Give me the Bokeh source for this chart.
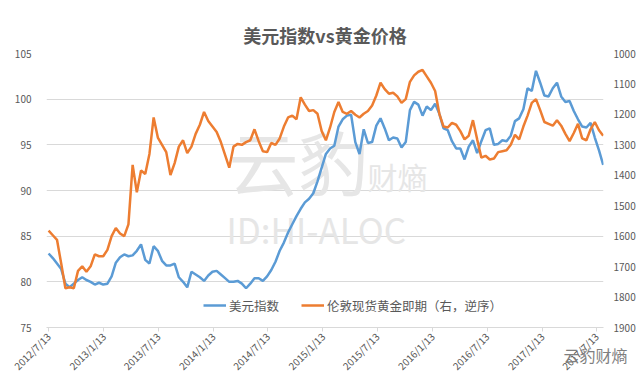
from datetime import datetime
import pandas as pd
from bokeh.plotting import figure
from bokeh.models import (Range1d, LinearAxis, FixedTicker, CustomJSTickFormatter,
                          Legend, LegendItem, Label, ColumnDataSource)
from bokeh.embed import file_html
from bokeh.resources import INLINE

# ---------------- data (~2-week sampling) ----------------
start_date = "2012-07-13"
n_points = 133
usd_index = [
    83.1, 82.6, 82.0, 81.4, 79.8, 79.4, 79.8, 80.2, 80.5, 80.2,
    80.0, 79.7, 79.9, 79.7, 79.8, 80.6, 82.1, 82.7, 83.0, 82.8,
    82.9, 83.4, 84.1, 82.4, 82.0, 83.9, 83.4, 82.3, 81.8, 81.8,
    82.0, 80.5, 80.0, 79.4, 81.1, 80.8, 80.5, 80.1, 80.7, 81.1,
    81.2, 80.8, 80.4, 80.0, 80.0, 80.1, 79.8, 79.3, 79.8, 80.4,
    80.4, 80.1, 80.6, 81.3, 82.2, 83.4, 84.3, 85.4, 86.3, 87.2,
    88.0, 88.7, 89.1, 89.7, 91.0, 92.5, 94.0, 94.6, 94.9, 97.0,
    97.8, 98.2, 98.3, 95.3, 94.0, 96.7, 95.2, 95.3, 97.1, 97.9,
    96.8, 95.5, 95.8, 95.7, 94.7, 95.3, 98.8, 99.7, 99.4, 98.2,
    99.2, 98.8, 99.5, 98.4, 96.8, 96.6, 95.4, 94.6, 94.6, 93.4,
    94.8, 95.5, 94.1, 95.4, 96.6, 96.8, 95.0, 95.1, 95.5, 95.4,
    96.0, 97.6, 97.9, 98.9, 101.2, 100.9, 103.1, 101.8, 100.4, 100.3,
    101.2, 101.8, 100.3, 99.7, 99.8, 98.7, 97.8, 97.0, 96.9, 97.4,
    95.8, 94.4, 92.8,
]
gold_price = [
    1582, 1597, 1612, 1690, 1771, 1768, 1771, 1714, 1699, 1717,
    1699, 1660, 1666, 1666, 1645, 1600, 1573, 1591, 1600, 1561,
    1366, 1456, 1384, 1396, 1330, 1210, 1276, 1300, 1324, 1399,
    1360, 1306, 1285, 1327, 1306, 1264, 1234, 1192, 1222, 1240,
    1258, 1291, 1333, 1375, 1306, 1297, 1300, 1291, 1285, 1249,
    1288, 1321, 1324, 1294, 1300, 1279, 1240, 1210, 1204, 1216,
    1144, 1168, 1189, 1186, 1198, 1255, 1285, 1243, 1192, 1159,
    1192, 1198, 1189, 1201, 1210, 1198, 1189, 1171, 1138, 1096,
    1117, 1132, 1129, 1141, 1162, 1150, 1093, 1072, 1060, 1054,
    1075, 1096, 1123, 1198, 1240, 1243, 1228, 1234, 1255, 1282,
    1270, 1219, 1282, 1342, 1336, 1348, 1345, 1324, 1321, 1318,
    1300, 1267, 1282, 1240, 1204, 1162, 1150, 1186, 1225, 1231,
    1237, 1219, 1237, 1264, 1288, 1261, 1231, 1279, 1285, 1249,
    1225, 1252, 1270,
]
tick_dates = ["2012-07-13", "2013-01-13", "2013-07-13", "2014-01-13", "2014-07-13",
              "2015-01-13", "2015-07-13", "2016-01-13", "2016-07-13", "2017-01-13",
              "2017-07-13"]
left_ticks = [75, 80, 85, 90, 95, 100, 105]
right_ticks = [1000, 1100, 1200, 1300, 1400, 1500, 1600, 1700, 1800, 1900]
title_text = "美元指数vs黄金价格"
series_names = ["美元指数", "伦敦现货黄金即期（右，逆序）"]
logo_text = "云豹财熵"

# ---------------- chart ----------------
dates = pd.date_range(start_date, periods=n_points, freq="14D")
src = ColumnDataSource(dict(date=dates, usd=usd_index, gold=gold_price))

FONT = "Noto Sans CJK SC"
GRAY = "#595959"
GRID = "#d9d9d9"
BLUE = "#5B9BD5"
ORANGE = "#ED7D31"

x0 = datetime(2012, 7, 6)
x1 = datetime(2017, 8, 5)

p = figure(width=640, height=385, x_axis_type="datetime",
           x_range=Range1d(x0, x1), y_range=Range1d(75, 105),
           output_backend="svg", toolbar_location=None,
           min_border_left=46, min_border_right=37, min_border_top=53, min_border_bottom=58)
p.extra_y_ranges = {"gold": Range1d(start=1900, end=1000)}

p.title.text = title_text
p.title.align = "center"
p.title.text_font = FONT
p.title.text_font_size = "18px"
p.title.text_font_style = "bold"
p.title.text_color = GRAY
p.title.standoff = 12

p.outline_line_color = None
p.background_fill_color = "white"
p.border_fill_color = "white"
p.xgrid.grid_line_color = None
p.ygrid.grid_line_color = GRID
p.ygrid.ticker = FixedTicker(ticks=left_ticks)

# watermark
wm_color = "#e6e6e6"
for txt, x, y, size in [("云豹", 182, 167, "70px"), ("财熵", 321, 152, "30px"),
                        ("ID:HI-ALOC", 180, 99, "35px")]:
    lab = Label(x=x, y=y, x_units="screen", y_units="screen", text=txt,
                text_font=FONT, text_font_size=size, text_color=wm_color,
                text_baseline="middle", level="underlay")
    p.add_layout(lab)

r_usd = p.line("date", "usd", source=src, line_color=BLUE, line_width=2.5)
r_gold = p.line("date", "gold", source=src, line_color=ORANGE, line_width=2.5,
                y_range_name="gold")

# axes
ticks_ms = [pd.Timestamp(d).value / 1e6 for d in tick_dates]
xa = p.xaxis[0]
xa.ticker = FixedTicker(ticks=ticks_ms)
xa.formatter = CustomJSTickFormatter(code="""
const d = new Date(tick);
return d.getUTCFullYear() + '/' + (d.getUTCMonth() + 1) + '/' + d.getUTCDate();
""")
xa.major_label_orientation = 0.785
xa.axis_line_color = GRID
xa.major_tick_line_color = GRID
xa.major_tick_out = 4
xa.major_tick_in = 0
xa.minor_tick_line_color = None
xa.major_label_text_font = FONT
xa.major_label_text_font_size = "10px"
xa.major_label_text_color = GRAY
xa.major_label_standoff = 3
# corner logo, drawn as the x axis label pulled up beside the last tick labels
xa.axis_label = logo_text + "\u3000"
xa.axis_label_align = "end"
xa.axis_label_text_align = "center"
xa.axis_label_standoff = -38
xa.axis_label_text_font = FONT
xa.axis_label_text_font_size = "16px"
xa.axis_label_text_font_style = "normal"
xa.axis_label_text_color = "#7f7f7f"

ya = p.yaxis[0]
ya.ticker = FixedTicker(ticks=left_ticks)
ya.axis_line_color = None
ya.major_tick_line_color = None
ya.minor_tick_line_color = None
ya.major_label_text_font = FONT
ya.major_label_text_font_size = "10px"
ya.major_label_text_color = GRAY
ya.major_label_standoff = 9

yr = LinearAxis(y_range_name="gold", ticker=FixedTicker(ticks=right_ticks))
yr.axis_line_color = None
yr.major_tick_line_color = None
yr.minor_tick_line_color = None
yr.major_label_text_font = FONT
yr.major_label_text_font_size = "10px"
yr.major_label_text_color = GRAY
yr.major_label_standoff = 4
p.add_layout(yr, "right")

legend = Legend(items=[LegendItem(label=series_names[0], renderers=[r_usd]),
                       LegendItem(label=series_names[1], renderers=[r_gold])],
                orientation="horizontal", location=(157, 12),
                label_text_font=FONT, label_text_font_size="12.5px",
                label_text_color=GRAY, border_line_color=None,
                background_fill_alpha=0, glyph_width=23, spacing=22,
                label_standoff=3, padding=0, margin=0)
p.add_layout(legend, "center")

open("out.html", "w").write(file_html(p, INLINE))
